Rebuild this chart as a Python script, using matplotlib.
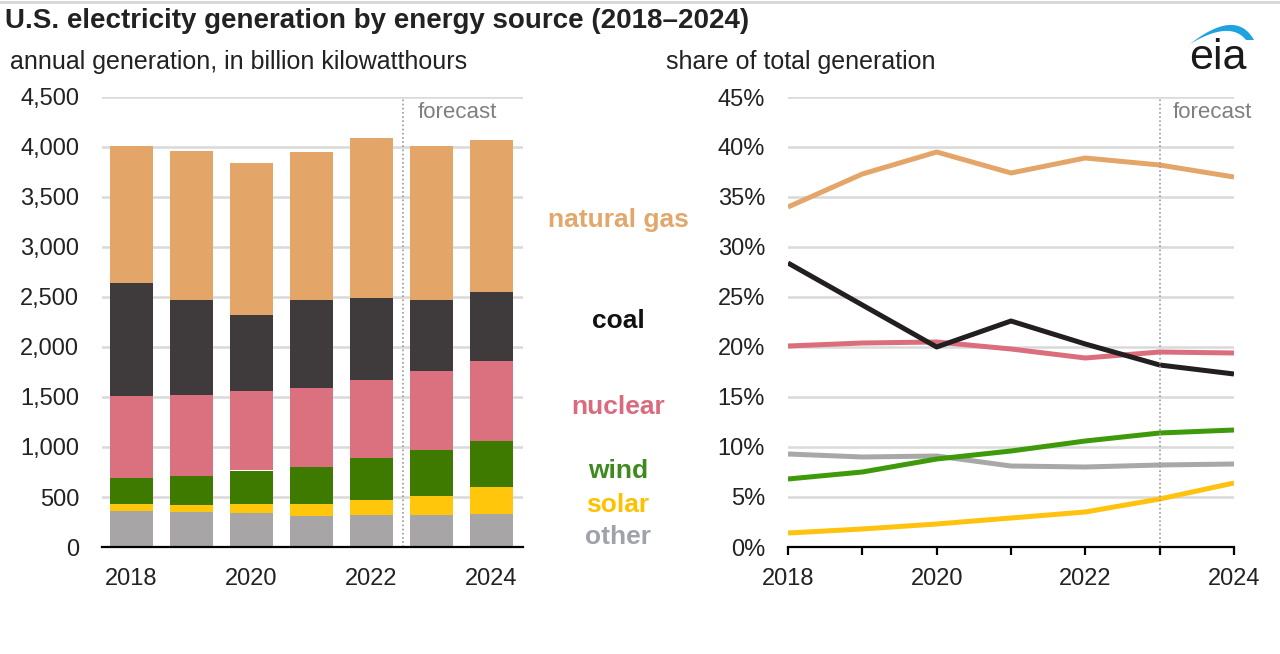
import matplotlib
matplotlib.use("Agg")
import matplotlib.pyplot as plt
from matplotlib.patches import Polygon
import numpy as np

plt.rcParams['font.family'] = ['Liberation Sans', 'DejaVu Sans']

# datos
years = [2018, 2019, 2020, 2021, 2022, 2023, 2024]
year_labels = ['2018', '2020', '2022', '2024']

# generacion anual, miles de millones de kWh
other = [359, 349, 339, 309, 319, 323, 326]
solar = [70, 70, 90, 120, 153, 189, 273]
wind = [259, 289, 336, 369, 416, 456, 465]
nuclear = [825, 815, 798, 789, 782, 791, 799]
coal = [1128, 952, 758, 881, 818, 716, 691]
gas = [1374, 1483, 1524, 1483, 1600, 1540, 1514]

# participacion en la generacion total, %
gas_share = [34.0, 37.3, 39.5, 37.4, 38.9, 38.2, 37.0]
coal_share = [28.4, 24.2, 20.0, 22.6, 20.3, 18.2, 17.3]
nuclear_share = [20.1, 20.4, 20.5, 19.8, 18.9, 19.5, 19.4]
wind_share = [6.8, 7.5, 8.8, 9.6, 10.6, 11.4, 11.7]
other_share = [9.3, 9.0, 9.1, 8.1, 8.0, 8.2, 8.3]
solar_share = [1.4, 1.8, 2.3, 2.9, 3.5, 4.8, 6.4]

sources = ['other', 'solar', 'wind', 'nuclear', 'coal', 'natural gas']
bar_colors = ['#a7a5a6', '#ffc60b', '#3f7a00', '#db707e', '#3f3b3c', '#e3a568']
line_colors = ['#a8a8a8', '#ffc20e', '#3e9a0a', '#db6e7d', '#231f20', '#e3a568']
label_colors = ['#a0a2aa', '#ffc000', '#3e8a1e', '#d96b7f', '#111111', '#e3a76b']

W, H = 1280, 654
fig = plt.figure(figsize=(W / 100, H / 100), dpi=100)
fig.patch.set_facecolor('white')


def fx(px):
    return px / W


def fy(py):
    return 1 - py / H


grid_color = '#d9d9d9'
text_color = '#222222'

# Barras apiladas - izquierda
ax1 = fig.add_axes([fx(102), fy(547), fx(523) - fx(102), fy(97) - fy(547)])
x = np.arange(len(years))
bottom = np.zeros(len(years))
for vals, col in zip([other, solar, wind, nuclear, coal, gas], bar_colors):
    ax1.bar(x, vals, bottom=bottom, width=0.717, color=col, zorder=3)
    bottom += np.array(vals)
ax1.set_xlim((102 - 131.5) / 60, (523 - 131.5) / 60)
ax1.set_ylim(0, 4500)
ax1.set_yticks(np.arange(0, 4501, 500))
ax1.set_yticklabels([f"{v:,}" for v in range(0, 4501, 500)])
ax1.set_xticks([0, 2, 4, 6])
ax1.set_xticklabels(year_labels)
ax1.yaxis.grid(True, color=grid_color, linewidth=1.8, zorder=0)
ax1.axvline(4.53, color='#9a9a9a', linestyle=(0, (1, 1.5)), linewidth=1.2, zorder=4)
ax1.text(4.775, 4340, 'forecast', fontsize=16, color='#7f7f7f', ha='left', va='center')

# Lineas de participacion - derecha
ax2 = fig.add_axes([fx(788), fy(547), fx(1234) - fx(788), fy(97) - fy(547)])
shares = [other_share, solar_share, wind_share, nuclear_share, coal_share, gas_share]
for vals, col in zip(shares, line_colors):
    ax2.plot(years, vals, color=col, linewidth=3.6, solid_capstyle='butt', zorder=3)
ax2.set_xlim(2018, 2024)
ax2.set_ylim(0, 45)
ax2.set_yticks(np.arange(0, 46, 5))
ax2.set_yticklabels([f"{v}%" for v in range(0, 46, 5)])
ax2.set_xticks(years)
ax2.set_xticklabels(['2018', '', '2020', '', '2022', '', '2024'])
ax2.yaxis.grid(True, color=grid_color, linewidth=1.8, zorder=0)
ax2.axvline(2023, color='#9a9a9a', linestyle=(0, (1, 1.5)), linewidth=1.2, zorder=4)
ax2.text(2023.17, 43.4, 'forecast', fontsize=16, color='#7f7f7f', ha='left', va='center')

for ax in [ax1, ax2]:
    for s in ['top', 'right', 'left']:
        ax.spines[s].set_visible(False)
    ax.spines['bottom'].set_color('black')
    ax.spines['bottom'].set_linewidth(1.6)
    ax.spines['bottom'].set_zorder(5)
    ax.tick_params(axis='y', length=0, pad=16.5, labelsize=17, labelcolor=text_color)
    ax.tick_params(axis='x', labelsize=17, labelcolor=text_color)
    ax.set_axisbelow(True)
    ax.set_facecolor('none')

ax1.tick_params(axis='x', length=0, pad=15)
ax2.tick_params(axis='x', length=6, width=1.6, color='black', pad=9)
ax2.spines['bottom'].set_bounds(2018, 2024)

# Titulos
fig.text(fx(5), fy(21), 'U.S. electricity generation by energy source (2018\u20132024)',
         fontsize=20, fontweight='bold', color=text_color, ha='left', va='center')
fig.text(fx(10), fy(62), 'annual generation, in billion kilowatthours',
         fontsize=18, color=text_color, ha='left', va='center')
fig.text(fx(666), fy(62), 'share of total generation',
         fontsize=18, color=text_color, ha='left', va='center')
fig.add_artist(plt.Line2D([0, 1], [fy(2), fy(2)], color='#d6d6d6', linewidth=2))

# Etiquetas de fuentes en el centro
label_y = [537, 505, 471, 407, 321, 220]
for name, col, py in zip(sources, label_colors, label_y):
    fig.text(fx(618), fy(py), name, fontsize=19, fontweight='bold', color=col,
             ha='center', va='center')

# Logo eia
fig.text(fx(1218), fy(58), 'eia', fontsize=31, color='#1a1a1a', ha='center', va='center')
t = np.linspace(0, 1, 40)
p0, p1, p2 = np.array([1190, 44]), np.array([1236, 8]), np.array([1254, 40])
outer = ((1 - t) ** 2)[:, None] * p0 + (2 * (1 - t) * t)[:, None] * p1 + (t ** 2)[:, None] * p2
q2 = np.array([1246, 40])
q1 = np.array([1230, 20])
inner = ((1 - t) ** 2)[:, None] * p0 + (2 * (1 - t) * t)[:, None] * q1 + (t ** 2)[:, None] * q2
pts = np.vstack([outer, inner[::-1]])
pts_fig = np.column_stack([pts[:, 0] / W, 1 - pts[:, 1] / H])
fig.add_artist(Polygon(pts_fig, closed=True, facecolor='#1fa3e0', edgecolor='none',
                       transform=fig.transFigure))

fig.savefig('out.png', dpi=100)
